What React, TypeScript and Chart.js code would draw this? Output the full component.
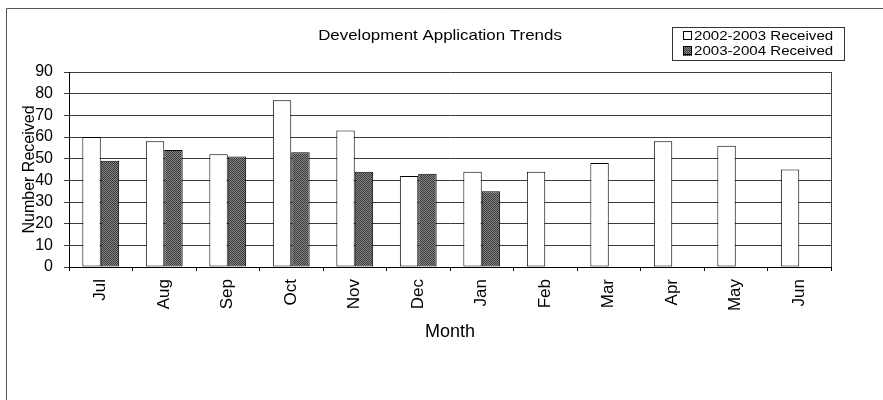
import React, { useEffect, useRef } from 'react';
import { Chart, registerables } from 'chart.js';

Chart.register(...registerables);

const months = ['Jul', 'Aug', 'Sep', 'Oct', 'Nov', 'Dec', 'Jan', 'Feb', 'Mar', 'Apr', 'May', 'Jun'];
const received0203 = [60, 58, 52, 77, 63, 42, 44, 44, 48, 58, 56, 45];
const received0304 = [49, 54, 51, 53, 44, 43, 35, null, null, null, null, null];
const seriesLabels = ['2002-2003 Received', '2003-2004 Received'];
const chartTitle = 'Development Application Trends';
const yAxisTitle = 'Number Received';
const xAxisTitle = 'Month';
const yMin = 0;
const yMax = 90;
const yStep = 10;

const FONT = '"Liberation Sans", Arial, sans-serif';

function makePattern(): CanvasPattern | string {
  const pc = document.createElement('canvas');
  pc.width = 2;
  pc.height = 2;
  const p = pc.getContext('2d');
  if (!p) return '#5f5f5f';
  p.fillStyle = '#858585';
  p.fillRect(0, 0, 2, 2);
  p.fillStyle = '#3a3a3a';
  p.fillRect(0, 0, 1, 1);
  p.fillRect(1, 1, 1, 1);
  const pat = p.createPattern(pc, 'repeat');
  return pat || '#5f5f5f';
}

const decorPlugin = {
  id: 'decor',
  afterDraw(chart: any) {
    const ctx = chart.ctx as CanvasRenderingContext2D;
    const ca = chart.chartArea;
    ctx.save();
    // plot area right border
    ctx.strokeStyle = '#444';
    ctx.lineWidth = 1;
    ctx.beginPath();
    ctx.moveTo(Math.round(ca.right) + 0.5, ca.top);
    ctx.lineTo(Math.round(ca.right) + 0.5, ca.bottom);
    ctx.stroke();

    // outer frame (left + top)
    ctx.strokeStyle = '#555';
    ctx.beginPath();
    ctx.moveTo(6.5, 400);
    ctx.lineTo(6.5, 8.5);
    ctx.lineTo(883, 8.5);
    ctx.stroke();

    // title
    ctx.fillStyle = '#000';
    ctx.textAlign = 'center';
    ctx.textBaseline = 'middle';
    ctx.font = `15px ${FONT}`;
    ctx.save();
    ctx.translate(440, 36);
    ctx.scale(1.127, 1);
    ctx.fillText(chartTitle, 0, 0);
    ctx.restore();

    // legend
    const lx = 672.5, ly = 27.5, lw = 172, lh = 33;
    ctx.strokeStyle = '#333';
    ctx.strokeRect(lx, ly, lw, lh);
    const rows = [36, 51];
    chart.data.datasets.forEach((ds: any, i: number) => {
      const cy = rows[i];
      ctx.fillStyle = ds.backgroundColor;
      ctx.fillRect(683, cy - 4, 9, 9);
      ctx.strokeStyle = '#000';
      ctx.strokeRect(683.5, cy - 4.5, 8, 8);
      ctx.save();
      ctx.translate(694, cy + 0.5);
      ctx.scale(1.16, 1);
      ctx.fillStyle = '#000';
      ctx.textAlign = 'left';
      ctx.textBaseline = 'middle';
      ctx.font = `13px ${FONT}`;
      ctx.fillText(ds.label, 0, 0);
      ctx.restore();
    });
    ctx.restore();
  },
};

export default function App() {
  const ref = useRef<HTMLCanvasElement | null>(null);

  useEffect(() => {
    if (!ref.current) return;
    const pattern = makePattern();
    const chart = new Chart(ref.current, {
      type: 'bar',
      data: {
        labels: months,
        datasets: [
          {
            label: seriesLabels[0],
            data: received0203,
            backgroundColor: '#ffffff',
            borderColor: '#000000',
            borderWidth: 1,
            borderSkipped: false,
          },
          {
            label: seriesLabels[1],
            data: received0304 as any,
            backgroundColor: pattern as any,
            borderColor: '#000000',
            borderWidth: 1,
            borderSkipped: false,
          },
        ],
      },
      options: {
        animation: false,
        responsive: false,
        maintainAspectRatio: false,
        layout: { padding: { top: 72, left: 0, right: 52, bottom: 0 } },
        datasets: { bar: { categoryPercentage: 0.58, barPercentage: 1.0 } },
        plugins: {
          legend: { display: false },
          title: { display: false },
          tooltip: { enabled: false },
        },
        scales: {
          x: {
            grid: {
              display: true,
              drawOnChartArea: false,
              drawTicks: true,
              tickLength: 4,
              color: '#000',
              offset: true,
            },
            border: { display: true, color: '#000', width: 1 },
            ticks: {
              color: '#000',
              font: { family: FONT, size: 17 },
              maxRotation: 90,
              minRotation: 90,
              padding: 8,
              autoSkip: false,
            },
            title: {
              display: true,
              text: xAxisTitle,
              color: '#000',
              font: { family: FONT, size: 18 },
              padding: { top: 0, bottom: 57 },
            },
            afterFit(scale: any) {
              scale.height = 133;
            },
          },
          y: {
            min: yMin,
            max: yMax,
            grid: {
              color: '#3a3a3a',
              lineWidth: 1,
              drawTicks: true,
              tickLength: 5,
            },
            border: { display: true, color: '#000', width: 1 },
            ticks: {
              stepSize: yStep,
              autoSkip: false,
              color: '#000',
              font: { family: FONT, size: 16 },
              padding: 11,
            },
            title: {
              display: true,
              text: yAxisTitle,
              color: '#000',
              font: { family: FONT, size: 16 },
              padding: { top: 20, bottom: 0 },
            },
            afterFit(scale: any) {
              scale.width = 69;
            },
          },
        },
      },
      plugins: [decorPlugin],
    });
    return () => chart.destroy();
  }, []);

  return (
    <div style={{ position: 'fixed', left: 0, top: 0, width: 883, height: 400, background: '#fff' }}>
      <canvas ref={ref} width={883} height={400} style={{ display: 'block', width: 883, height: 400 }} />
    </div>
  );
}
